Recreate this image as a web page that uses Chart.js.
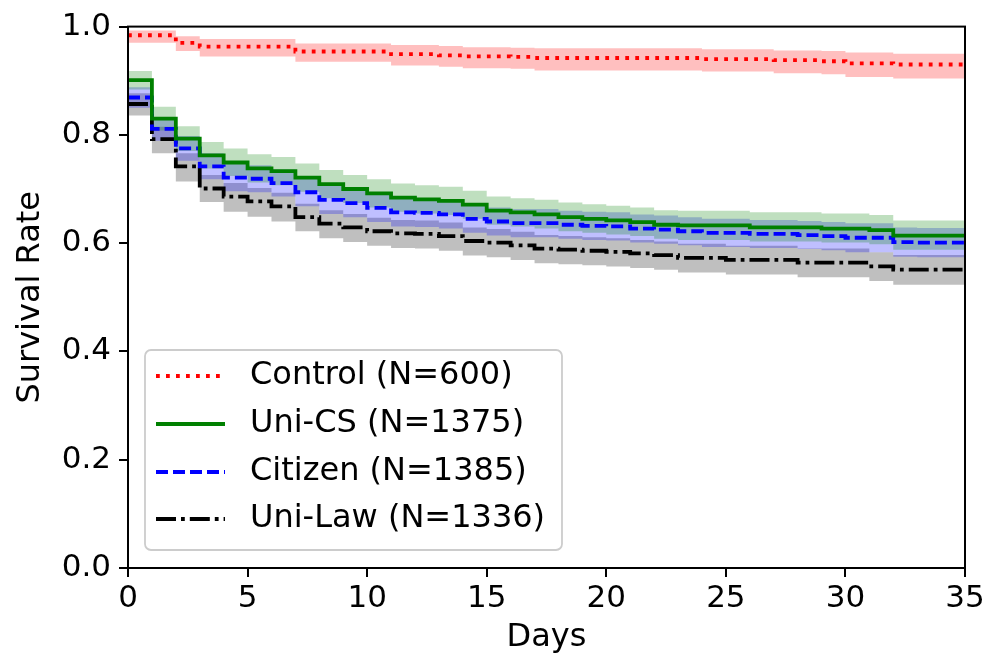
<!DOCTYPE html>
<html>
<head>
<meta charset="utf-8">
<script src="https://cdn.jsdelivr.net/npm/chart.js@4.4.0/dist/chart.umd.min.js"></script>
<style>
  html, body { margin: 0; padding: 0; background: #fff; }
  #wrap { width: 990px; height: 656px; }
</style>
</head>
<body>
<div id="wrap"><canvas id="km" width="990" height="656"></canvas></div>
<script>
  // day at which each step starts (value holds until next day)
  const days = [0, 1, 2, 3, 4, 5, 6, 7, 8, 9, 10, 11, 12, 13, 14, 15, 16, 17,
    18, 19, 20, 21, 22, 23, 24, 25, 26, 27, 28, 29, 30, 31, 32, 33, 34, 35];

  const seriesLabels = ["Control (N=600)", "Uni-CS (N=1375)", "Citizen (N=1385)", "Uni-Law (N=1336)"];

  // Control
  const controlSurv = [0.984, 0.984, 0.970, 0.963, 0.963, 0.963, 0.963, 0.954, 0.954, 0.954, 0.954, 0.949,
    0.949, 0.947, 0.945, 0.945, 0.944, 0.942, 0.942, 0.942, 0.942, 0.942, 0.942, 0.942, 0.940, 0.940,
    0.940, 0.938, 0.938, 0.936, 0.932, 0.932, 0.930, 0.930, 0.930, 0.930];
  const controlHigh = [0.993, 0.993, 0.982, 0.977, 0.977, 0.977, 0.977, 0.969, 0.969, 0.969, 0.969, 0.966,
    0.966, 0.964, 0.962, 0.962, 0.961, 0.960, 0.960, 0.960, 0.960, 0.960, 0.960, 0.960, 0.958, 0.958,
    0.958, 0.956, 0.956, 0.955, 0.952, 0.952, 0.950, 0.950, 0.950, 0.950];
  const controlLow = [0.970, 0.970, 0.955, 0.945, 0.945, 0.945, 0.945, 0.935, 0.935, 0.935, 0.935, 0.928,
    0.928, 0.926, 0.923, 0.923, 0.922, 0.919, 0.919, 0.919, 0.919, 0.919, 0.919, 0.919, 0.917, 0.917,
    0.917, 0.914, 0.914, 0.912, 0.907, 0.907, 0.904, 0.904, 0.904, 0.904];

  // Uni-CS
  const csSurv = [0.901, 0.830, 0.793, 0.762, 0.749, 0.738, 0.733, 0.721, 0.709, 0.700, 0.692, 0.684,
    0.681, 0.678, 0.671, 0.660, 0.657, 0.653, 0.648, 0.645, 0.642, 0.639, 0.634, 0.633, 0.633, 0.633,
    0.629, 0.629, 0.629, 0.627, 0.627, 0.624, 0.614, 0.614, 0.614, 0.614];
  const csHigh = [0.918, 0.852, 0.816, 0.787, 0.775, 0.764, 0.759, 0.747, 0.735, 0.726, 0.718, 0.710,
    0.707, 0.704, 0.697, 0.686, 0.683, 0.680, 0.675, 0.672, 0.669, 0.666, 0.661, 0.660, 0.660, 0.660,
    0.657, 0.657, 0.657, 0.655, 0.655, 0.652, 0.642, 0.642, 0.642, 0.642];
  const csLow = [0.884, 0.808, 0.770, 0.738, 0.724, 0.712, 0.707, 0.695, 0.683, 0.674, 0.666, 0.658,
    0.655, 0.652, 0.645, 0.634, 0.631, 0.627, 0.622, 0.619, 0.616, 0.613, 0.608, 0.606, 0.606, 0.606,
    0.603, 0.603, 0.603, 0.601, 0.601, 0.598, 0.588, 0.588, 0.588, 0.588];

  // Citizen
  const citSurv = [0.869, 0.811, 0.775, 0.742, 0.721, 0.719, 0.711, 0.694, 0.680, 0.674, 0.665, 0.657,
    0.656, 0.653, 0.645, 0.640, 0.637, 0.637, 0.634, 0.632, 0.631, 0.627, 0.625, 0.622, 0.619, 0.619,
    0.617, 0.617, 0.615, 0.613, 0.610, 0.610, 0.602, 0.601, 0.601, 0.601];
  const citHigh = [0.888, 0.833, 0.798, 0.766, 0.746, 0.744, 0.736, 0.720, 0.706, 0.700, 0.691, 0.683,
    0.682, 0.679, 0.671, 0.666, 0.663, 0.663, 0.660, 0.658, 0.657, 0.653, 0.651, 0.648, 0.645, 0.645,
    0.643, 0.643, 0.641, 0.639, 0.637, 0.637, 0.629, 0.628, 0.628, 0.628];
  const citLow = [0.850, 0.789, 0.752, 0.718, 0.696, 0.694, 0.686, 0.668, 0.654, 0.648, 0.639, 0.631,
    0.630, 0.627, 0.619, 0.614, 0.611, 0.611, 0.608, 0.606, 0.605, 0.601, 0.599, 0.596, 0.593, 0.593,
    0.591, 0.591, 0.589, 0.587, 0.583, 0.583, 0.575, 0.574, 0.574, 0.574];

  // Uni-Law
  const lawSurv = [0.857, 0.792, 0.742, 0.701, 0.686, 0.677, 0.668, 0.648, 0.636, 0.629, 0.622, 0.618,
    0.617, 0.613, 0.604, 0.601, 0.596, 0.590, 0.588, 0.586, 0.584, 0.581, 0.578, 0.573, 0.573, 0.569,
    0.569, 0.569, 0.564, 0.564, 0.564, 0.557, 0.551, 0.551, 0.551, 0.551];
  const lawHigh = [0.877, 0.815, 0.766, 0.726, 0.711, 0.702, 0.693, 0.673, 0.661, 0.654, 0.647, 0.643,
    0.642, 0.638, 0.629, 0.626, 0.621, 0.615, 0.613, 0.611, 0.609, 0.606, 0.603, 0.599, 0.599, 0.595,
    0.595, 0.595, 0.590, 0.590, 0.590, 0.583, 0.578, 0.578, 0.578, 0.578];
  const lawLow = [0.836, 0.766, 0.714, 0.676, 0.658, 0.649, 0.640, 0.622, 0.609, 0.602, 0.595, 0.591,
    0.590, 0.586, 0.577, 0.574, 0.569, 0.563, 0.561, 0.559, 0.557, 0.554, 0.551, 0.546, 0.546, 0.542,
    0.542, 0.542, 0.537, 0.537, 0.537, 0.530, 0.523, 0.523, 0.523, 0.523];

  const xTicks = [0, 5, 10, 15, 20, 25, 30, 35];
  const yTicks = [0.0, 0.2, 0.4, 0.6, 0.8, 1.0];

  const FONT = "'DejaVu Sans', 'Liberation Sans', sans-serif";

  const groups = [
    { label: seriesLabels[0], surv: controlSurv, low: controlLow, high: controlHigh,
      color: "#ff0000", band: "rgba(255, 0, 0, 0.25)", width: 3.8, dash: [3.8, 6.2] },
    { label: seriesLabels[1], surv: csSurv, low: csLow, high: csHigh,
      color: "#008000", band: "rgba(0, 128, 0, 0.25)", width: 3.8, dash: [] },
    { label: seriesLabels[2], surv: citSurv, low: citLow, high: citHigh,
      color: "#0000ff", band: "rgba(0, 0, 255, 0.25)", width: 3.8, dash: [12, 5] },
    { label: seriesLabels[3], surv: lawSurv, low: lawLow, high: lawHigh,
      color: "#000000", band: "rgba(0, 0, 0, 0.25)", width: 3.8, dash: [20, 5, 3.8, 5] },
  ];

  function pts(arr) {
    return days.map(function (d, i) { return { x: d, y: arr[i] }; });
  }

  var datasets = [];
  groups.forEach(function (g) {
    datasets.push({
      data: pts(g.high), stepped: true, pointRadius: 0, borderColor: "transparent",
      borderWidth: 1, backgroundColor: g.band, fill: "+1", order: 2,
    });
    datasets.push({
      data: pts(g.low), stepped: true, pointRadius: 0, borderColor: "transparent",
      borderWidth: 1, fill: false, order: 2,
    });
    datasets.push({
      label: g.label, data: pts(g.surv), stepped: true, pointRadius: 0,
      borderColor: g.color, borderWidth: g.width, borderDash: g.dash,
      borderCapStyle: "butt", fill: false, order: 1,
    });
  });

  // Frame around the plot (all four spines)
  const framePlugin = {
    id: "frame",
    afterDatasetsDraw: function (chart) {
      const a = chart.chartArea;
      const ctx = chart.ctx;
      ctx.save();
      ctx.strokeStyle = "#000";
      ctx.lineWidth = 2;
      ctx.strokeRect(a.left, a.top, a.right - a.left, a.bottom - a.top);
      ctx.restore();
    },
  };

  // Legend box in the lower left of the plot
  const legendPlugin = {
    id: "kmLegend",
    afterDraw: function (chart) {
      const ctx = chart.ctx;
      const x = 145, y = 350, w = 417, h = 200, r = 6;
      ctx.save();
      ctx.beginPath();
      ctx.moveTo(x + r, y);
      ctx.lineTo(x + w - r, y);
      ctx.arcTo(x + w, y, x + w, y + r, r);
      ctx.lineTo(x + w, y + h - r);
      ctx.arcTo(x + w, y + h, x + w - r, y + h, r);
      ctx.lineTo(x + r, y + h);
      ctx.arcTo(x, y + h, x, y + h - r, r);
      ctx.lineTo(x, y + r);
      ctx.arcTo(x, y, x + r, y, r);
      ctx.closePath();
      ctx.fillStyle = "rgba(255, 255, 255, 0.8)";
      ctx.fill();
      ctx.strokeStyle = "#cccccc";
      ctx.lineWidth = 1.8;
      ctx.stroke();

      const rows = [376, 424, 472, 519];
      groups.forEach(function (g, i) {
        ctx.beginPath();
        ctx.strokeStyle = g.color;
        ctx.lineWidth = g.width;
        ctx.lineCap = "butt";
        ctx.setLineDash(g.dash);
        ctx.moveTo(156, rows[i]);
        ctx.lineTo(225, rows[i]);
        ctx.stroke();
        ctx.setLineDash([]);
        ctx.fillStyle = "#000";
        ctx.font = "32px " + FONT;
        ctx.textBaseline = "middle";
        ctx.textAlign = "left";
        ctx.fillText(g.label, 250, rows[i]);
      });
      ctx.restore();
    },
  };

  const tickFont = { family: FONT, size: 31 };
  const titleFont = { family: FONT, size: 32 };

  new Chart(document.getElementById("km"), {
    type: "line",
    data: { datasets: datasets },
    plugins: [framePlugin, legendPlugin],
    options: {
      responsive: false,
      animation: false,
      layout: { padding: { top: 22, right: 25, left: 0, bottom: 0 } },
      plugins: {
        legend: { display: false },
        tooltip: { enabled: false },
      },
      scales: {
        x: {
          type: "linear",
          min: 0,
          max: 35,
          afterBuildTicks: function (scale) {
            scale.ticks = xTicks.map(function (v) { return { value: v }; });
          },
          ticks: { color: "#000", font: tickFont, padding: 3, maxRotation: 0,
            callback: function (v) { return String(v); } },
          grid: { drawOnChartArea: false, drawTicks: true, tickLength: 9, color: "#000", lineWidth: 2 },
          border: { display: false },
          title: { display: true, text: "Days", color: "#000",
            font: { family: FONT, size: 32, lineHeight: 1.125 }, padding: 0 },
          afterFit: function (scale) { scale.height = 88; },
        },
        y: {
          min: 0,
          max: 1,
          afterBuildTicks: function (scale) {
            scale.ticks = yTicks.map(function (v) { return { value: v }; });
          },
          ticks: { color: "#000", font: tickFont, padding: 8,
            callback: function (v) { return Number(v).toFixed(1); } },
          grid: { drawOnChartArea: false, drawTicks: true, tickLength: 9, color: "#000", lineWidth: 2 },
          border: { display: false },
          title: { display: true, text: "Survival Rate", color: "#000", font: titleFont,
            padding: { top: 11, bottom: 0 } },
          afterFit: function (scale) { scale.width = 128; },
        },
      },
    },
  });
</script>
</body>
</html>
